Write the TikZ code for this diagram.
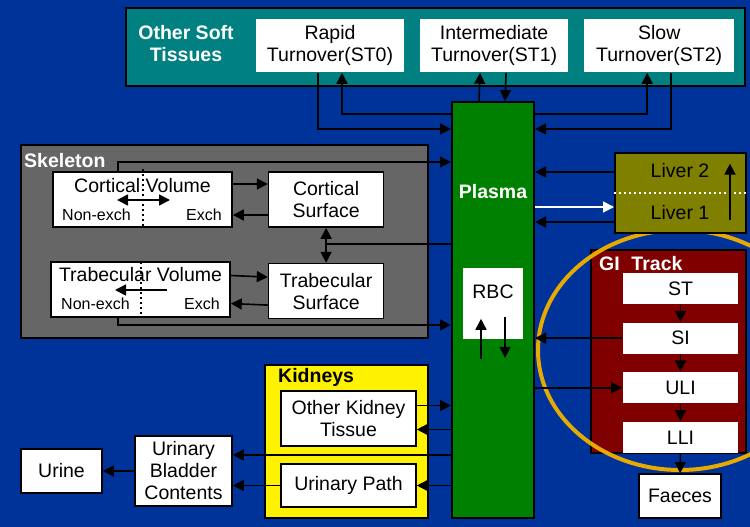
\documentclass[tikz,border=0pt]{standalone}
\usepackage{fontspec}
\setmainfont{Liberation Sans}
\usepackage{tikz}
\usetikzlibrary{arrows.meta,positioning,calc}
\definecolor{slideblue}{RGB}{0,51,153}
\definecolor{softteal}{RGB}{0,128,128}
\definecolor{bonegrey}{RGB}{102,102,102}
\definecolor{plasmagreen}{RGB}{0,128,0}
\definecolor{liverolive}{RGB}{128,128,0}
\definecolor{gired}{RGB}{128,0,0}
\definecolor{ringorange}{RGB}{230,170,0}

\begin{document}
\begin{tikzpicture}[x=1pt, y=-1pt,
    panel/.style={draw=black, line width=2pt, inner sep=0pt},
    box/.style={draw=black, line width=1.6pt, fill=white, inner sep=0pt, align=center, font=\fontsize{19.5}{22}\selectfont},
    plainbox/.style={box, draw=none},
    tag/.style={inner sep=0pt, align=center, font=\bfseries\fontsize{19.5}{22}\selectfont},
    txt/.style={inner sep=0pt, font=\fontsize{19.5}{22}\selectfont},
    small/.style={inner sep=0pt, font=\fontsize{16}{18}\selectfont},
    arr/.style={-{Triangle[length=11pt,width=11pt]}, line width=1.6pt},
    dbl/.style={{Triangle[length=11pt,width=11pt]}-{Triangle[length=11pt,width=11pt]}, line width=1.6pt},
    divider/.style={line width=2pt, dash pattern=on 2pt off 3pt}]
    \useasboundingbox (0,0) rectangle (750,527);
    \fill[slideblue] (0,0) rectangle (750,527);

    % other soft tissues
    \node[panel, fill=softteal, minimum width=619pt, minimum height=78pt] (soft) at (435.5,47) {};
    \node[tag, text=white] (softtag) at (186,44) {Other Soft\\Tissues};
    \node[plainbox, minimum width=148pt, minimum height=53pt] (st0) at (330,45.5) {Rapid\\Turnover(ST0)};
    \node[plainbox, minimum width=148pt, minimum height=53pt, right=14.5pt of st0] (st1) {Intermediate\\Turnover(ST1)};
    \node[plainbox, minimum width=150pt, minimum height=53pt, right=14.5pt of st1] (st2) {Slow\\Turnover(ST2)};

    % plasma
    \node[panel, fill=plasmagreen, minimum width=82pt, minimum height=416pt] (plasma) at (493,310) {};
    \node[tag, text=white] (plasmatag) at (493,192) {Plasma};
    \node[plainbox, minimum width=60pt, minimum height=71pt] (rbc) at (493,303.5) {};
    \node[txt] (rbctag) at (493,292) {RBC};

    % skeleton
    \node[panel, fill=bonegrey, minimum width=407pt, minimum height=193pt] (skel) at (224.5,241.5) {};
    \node[tag, text=white, anchor=west] (skeltag) at (24,161) {Skeleton};
    \node[box, minimum width=179pt, minimum height=55pt] (cv) at (142.5,199.5) {};
    \node[txt] (cvtag) at (142.5,186) {Cortical Volume};
    \node[small, anchor=west] (cvne) at (62,215) {Non-exch};
    \node[small, anchor=east] (cve) at (222,215) {Exch};
    \node[box, minimum width=115pt, minimum height=55pt, right=35pt of cv] (cs) {Cortical\\Surface};
    \node[box, minimum width=179pt, minimum height=55pt] (tv) at (140.5,289.5) {};
    \node[txt] (tvtag) at (140.5,275) {Trabecular Volume};
    \node[small, anchor=west] (tvne) at (61,304) {Non-exch};
    \node[small, anchor=east] (tve) at (220,304) {Exch};
    \node[box, minimum width=115pt, minimum height=55pt, below=35pt of cs] (ts) {Trabecular\\Surface};
    \draw[divider] (143,169) -- (143,228);
    \draw[divider] (141,262) -- (141,317);
    \draw[dbl] (117,200) -- (170,200);
    \draw[arr] (167,290) -- (115,290);

    % gi track
    \node[panel, fill=gired, minimum width=155pt, minimum height=203pt] (gi) at (668.5,351.5) {};
    \node[tag, text=white, anchor=west] (gitag) at (599,264) {GI\hspace{0.6em}Track};
    \draw[ringorange, line width=4pt] (680,350) ellipse [x radius=142, y radius=120];
    \node[plainbox, minimum width=115pt, minimum height=31pt] (stom) at (680.5,288.5) {ST};
    \node[plainbox, minimum width=115pt, minimum height=31pt, below=17pt of stom] (si) {SI};
    \node[plainbox, minimum width=115pt, minimum height=31pt, below=17pt of si] (uli) {ULI};
    \node[plainbox, minimum width=115pt, minimum height=31pt, below=17pt of uli] (lli) {LLI};
    \node[box, minimum width=82pt, minimum height=44pt] (faeces) at (680,496) {Faeces};

    % liver
    \node[panel, fill=liverolive, minimum width=131pt, minimum height=80pt] (liver) at (680.5,193) {};
    \node[txt] (liver2) at (680,171) {Liver 2};
    \node[txt] (liver1) at (680,213) {Liver 1};
    \draw[divider, white] (liver.west) -- (liver.east);
    \draw[arr] ([xshift=-17pt]liver.east |- liver1.south) -- ([xshift=-17pt]liver.east |- liver2.north);

    % kidneys and urine
    \node[panel, fill=yellow, minimum width=163pt, minimum height=153pt] (kid) at (346.5,441.5) {};
    \node[tag, anchor=west] (kidtag) at (278,377) {Kidneys};
    \node[box, minimum width=135pt, minimum height=55pt] (okt) at (348.5,418.5) {Other Kidney\\Tissue};
    \node[box, minimum width=135pt, minimum height=43pt] (upath) at (348.5,485.5) {Urinary Path};
    \node[box, minimum width=97pt, minimum height=70pt] (bladder) at (183.5,471) {Urinary\\Bladder\\Contents};
    \node[box, minimum width=81pt, minimum height=44pt] (urine) at (61.5,471) {Urine};

    % soft tissue exchange
    \draw[arr] ([xshift=-12pt]st0.south) |- ([yshift=-28pt]plasma.north west);
    \draw[arr] ([yshift=-13pt]plasma.north west) -| ([xshift=12pt]st0.south);
    \draw[arr] ([xshift=-14pt]plasma.north) -- ([xshift=-14pt]st1.south);
    \draw[arr] ([xshift=12pt]st1.south) -- ([xshift=12pt]plasma.north);
    \draw[arr] ([yshift=-13pt]plasma.north east) -| ([xshift=-12pt]st2.south);
    \draw[arr] ([xshift=12pt]st2.south) |- ([yshift=-28pt]plasma.north east);

    % skeleton exchange
    \draw[arr] ([xshift=-24.5pt]cv.north) |- ([yshift=-61pt]plasma.north west);
    \draw[arr] ([yshift=15.5pt]cv.east) -- ([yshift=15.5pt]cs.west);
    \draw[arr] ([yshift=-15.5pt]cs.west) -- ([yshift=-15.5pt]cv.east);
    \draw[arr] ([yshift=14pt]tv.east) -- ([yshift=14pt]ts.west);
    \draw[arr] ([yshift=-14pt]ts.west) -- ([yshift=-14pt]tv.east);
    \draw[dbl] (cs) -- (ts);
    \coordinate (sj) at (324.5,244);
    \draw[line width=1.6pt] (plasma.west |- sj) -- (sj);
    \draw[arr] ([xshift=-22.5pt]tv.south) |- ([yshift=-224pt]plasma.north west);

    % red cells
    \draw[arr] ([xshift=-12pt,yshift=-19pt]rbc.south) -- ([xshift=-12pt,yshift=21pt]rbc.south);
    \draw[arr] ([xshift=12pt,yshift=23pt]rbc.south) -- ([xshift=12pt,yshift=-18pt]rbc.south);

    % liver exchange
    \draw[arr] ([yshift=21pt]liver.west) -- ([yshift=21pt]liver.west -| plasma.east);
    \draw[arr, white] ([yshift=-14pt]liver.west -| plasma.east) -- ([yshift=-14pt]liver.west);
    \draw[arr] ([yshift=-29pt]liver.west) -- ([yshift=-29pt]liver.west -| plasma.east);

    % gi tract
    \draw[arr] (stom) -- (si);
    \draw[arr] (si) -- (uli);
    \draw[arr] (uli) -- (lli);
    \draw[arr] (lli) -- (faeces);
    \draw[arr] (si.west) -- (si.west -| plasma.east);
    \draw[arr] (uli.west -| plasma.east) -- (uli.west);

    % kidneys exchange
    \draw[arr] ([yshift=13pt]okt.east) -- ([yshift=13pt]okt.east -| plasma.west);
    \draw[arr] ([yshift=-11pt]okt.east -| plasma.west) -- ([yshift=-11pt]okt.east);
    \draw[arr] ([yshift=16pt]bladder.east -| plasma.west) -- ([yshift=16pt]bladder.east);
    \draw[arr] (upath.east -| plasma.west) -- (upath.east);
    \draw[arr] (upath.west) -- (upath.west -| bladder.east);
    \draw[arr] (bladder) -- (urine);
\end{tikzpicture}
\end{document}
